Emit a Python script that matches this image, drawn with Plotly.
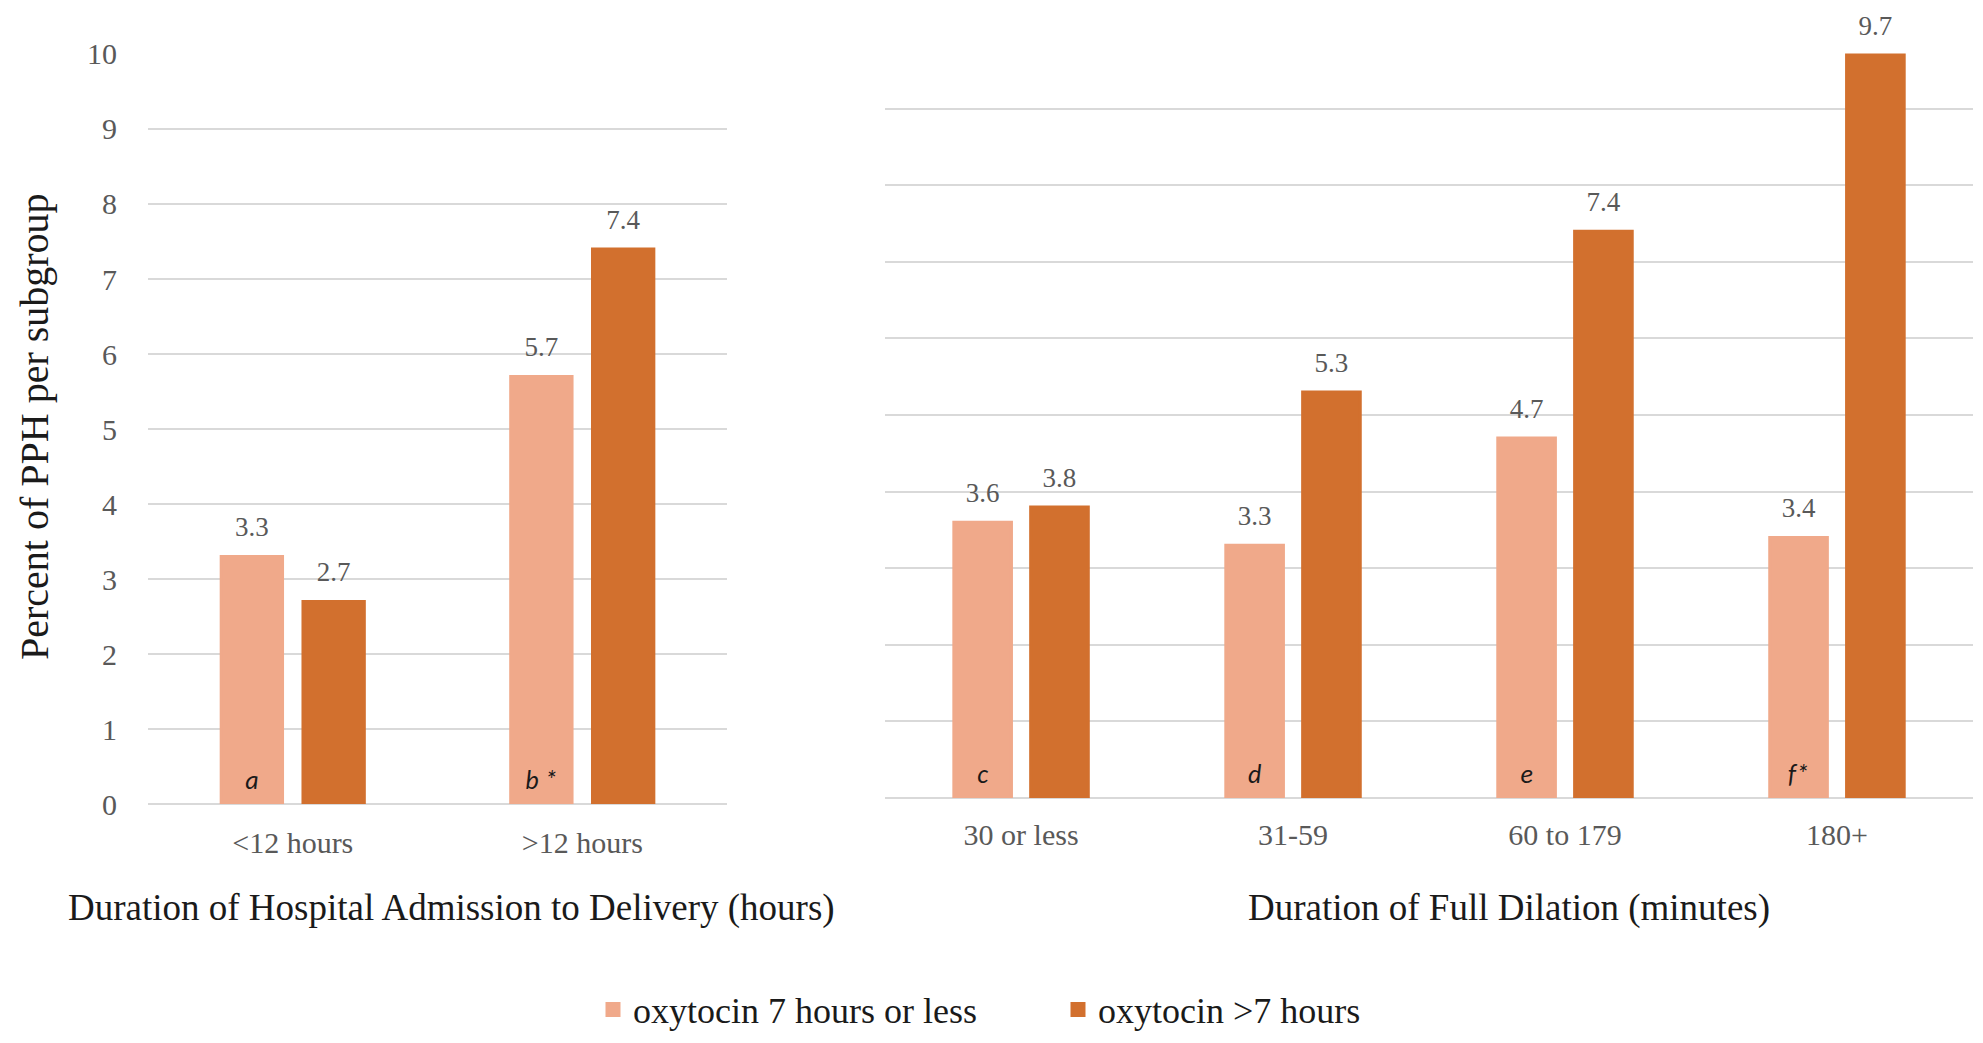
"""PPH by oxytocin duration, split by admission time and full dilation time."""

import plotly.graph_objects as go

# categories
admission_groups = ["<12 hours", ">12 hours"]
dilation_groups = ["30 or less", "31-59", "60 to 179", "180+"]

# percent of PPH per subgroup
admission_short = [3.3, 5.7]
admission_long = [2.7, 7.4]
dilation_short = [3.6, 3.3, 4.7, 3.4]
dilation_long = [3.8, 5.3, 7.4, 9.7]

# subgroup letters written at the foot of the light bars
admission_letters = ["a", "b *"]
dilation_letters = ["c", "d", "e", "f*"]

series_names = ["oxytocin 7 hours or less", "oxytocin >7 hours"]
y_ticks = list(range(0, 11))

LIGHT = "#F0A98A"
DARK = "#D2702E"
GRID = "#D9D9D9"
SERIF = "Liberation Serif, Times New Roman, serif"
SANS = "Carlito, Liberation Sans, Arial, sans-serif"
GAP = 0.435

fig = go.Figure()

panels = [
    ("x", "y", admission_groups, admission_short, admission_long, admission_letters, True),
    ("x2", "y2", dilation_groups, dilation_short, dilation_long, dilation_letters, False),
]

for xa, ya, cats, short, long_, letters, legend in panels:
    for name, vals, color, grp in [
        (series_names[0], short, LIGHT, "s"),
        (series_names[1], long_, DARK, "l"),
    ]:
        fig.add_trace(
            go.Bar(
                x=cats,
                y=vals,
                name=name,
                # thin same-colour outline, mainly so the legend swatch is larger
                marker=dict(color=color, line=dict(width=3, color=color)),
                offsetgroup=grp,
                xaxis=xa,
                yaxis=ya,
                showlegend=legend,
                hoverinfo="skip",
            )
        )
        # value labels above bars
        fig.add_trace(
            go.Scatter(
                x=cats,
                y=vals,
                mode="markers+text",
                text=[f"{v:.1f}" for v in vals],
                textposition="top center",
                textfont=dict(family=SERIF, size=27, color="#595959"),
                marker=dict(size=20, opacity=0),
                offsetgroup=grp,
                xaxis=xa,
                yaxis=ya,
                showlegend=False,
                cliponaxis=False,
                hoverinfo="skip",
            )
        )
    # italic subgroup letters
    fig.add_trace(
        go.Scatter(
            x=cats,
            y=[0] * len(cats),
            mode="markers+text",
            text=[f"<i>{t}</i>" for t in letters],
            textposition="top center",
            textfont=dict(family=SANS, size=26, color="#1a1a1a"),
            marker=dict(size=12, opacity=0),
            offsetgroup="s",
            xaxis=xa,
            yaxis=ya,
            showlegend=False,
            cliponaxis=False,
            hoverinfo="skip",
        )
    )

tick_font = dict(family=SERIF, size=30, color="#595959")

# the page body adds an 8px offset, the domains below allow for it
fig.update_layout(
    width=1983,
    height=1043,
    margin=dict(l=0, r=0, t=0, b=0),
    paper_bgcolor="white",
    plot_bgcolor="white",
    barmode="group",
    bargap=GAP,
    bargroupgap=0.25,
    scattermode="group",
    scattergap=GAP,
    xaxis=dict(
        domain=[0.0706, 0.3626], anchor="y", automargin=False,
        showline=False, ticks="outside", ticklen=12,
        tickcolor="rgba(0,0,0,0)", tickfont=tick_font,
    ),
    xaxis2=dict(
        domain=[0.4423, 0.9909], anchor="y2", automargin=False,
        showline=False, ticks="outside", ticklen=10,
        tickcolor="rgba(0,0,0,0)", tickfont=tick_font,
    ),
    yaxis=dict(
        domain=[0.2368, 0.9559],
        anchor="x",
        automargin=False,
        range=[0, 10],
        tickvals=y_ticks,
        showgrid=True,
        gridcolor=GRID,
        gridwidth=2,
        zeroline=True,
        zerolinecolor=GRID,
        zerolinewidth=2,
        showline=False,
        ticks="outside",
        ticklen=24,
        tickcolor="rgba(0,0,0,0)",
        tickfont=tick_font,
    ),
    yaxis2=dict(
        domain=[0.2426, 0.9770],
        anchor="x2",
        automargin=False,
        range=[0, 10],
        tickvals=y_ticks,
        showticklabels=False,
        showgrid=True,
        gridcolor=GRID,
        gridwidth=2,
        zeroline=True,
        zerolinecolor=GRID,
        zerolinewidth=2,
    ),
    legend=dict(
        orientation="h",
        x=0.5295,
        y=0.0398,
        xanchor="center",
        yanchor="middle",
        font=dict(family=SERIF, size=36, color="#1a1a1a"),
        entrywidth=420,
        itemwidth=30,
    ),
    annotations=[
        dict(
            text="Duration of Hospital Admission to Delivery (hours)",
            x=0.2239, y=0.1371, xref="paper", yref="paper",
            showarrow=False, xanchor="center", yanchor="middle",
            font=dict(family=SERIF, size=37, color="#1a1a1a"),
        ),
        dict(
            text="Duration of Full Dilation (minutes)",
            x=0.7569, y=0.1371, xref="paper", yref="paper",
            showarrow=False, xanchor="center", yanchor="middle",
            font=dict(family=SERIF, size=37, color="#1a1a1a"),
        ),
        dict(
            text="Percent of PPH per subgroup",
            x=0.0131, y=0.5992, xref="paper", yref="paper",
            showarrow=False, xanchor="center", yanchor="middle",
            textangle=-90,
            font=dict(family=SERIF, size=40, color="#1a1a1a"),
        ),
    ],
)

fig.write_html("out.html")
